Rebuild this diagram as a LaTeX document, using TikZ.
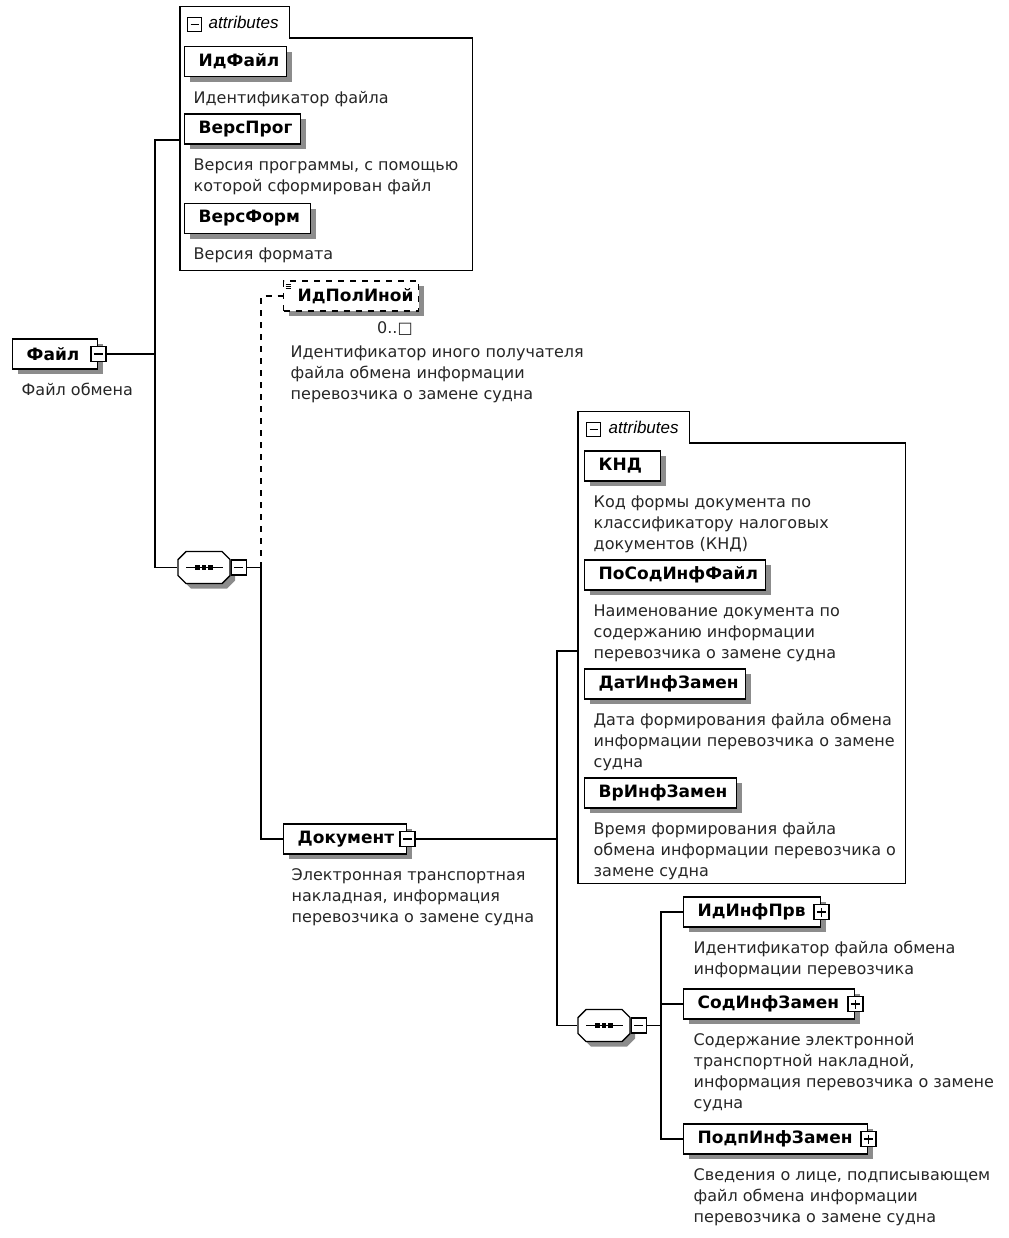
\documentclass[tikz,border=0pt]{standalone}
\usepackage{fontspec}
\setmainfont{DejaVu Sans}
\newfontfamily\tabfont{Liberation Sans}
\usepackage{tikz}
\usetikzlibrary{positioning,calc,shadows}

\hyphenpenalty=10000

\tikzset{
    gshadow/.style={drop shadow={shadow xshift=2.5pt,shadow yshift=-2.5pt,fill=black!45,opacity=1}},
    elem/.style={draw,fill=white,gshadow,anchor=west,minimum height=15pt,
        inner xsep=7pt,inner ysep=0pt,text width=#1,align=left,
        font=\fontsize{8.5}{10}\selectfont\bfseries},
    desc/.style={inner sep=0pt,align=left,text=black!85,font=\fontsize{8}{10.5}\selectfont},
    btn/.style={draw,fill=white,minimum size=7.5pt,inner sep=0pt},
    btnminus/.style={btn,path picture={
        \draw ([xshift=1.5pt]path picture bounding box.west) -- ([xshift=-1.5pt]path picture bounding box.east);}},
    btnplus/.style={btn,path picture={
        \draw ([xshift=1.5pt]path picture bounding box.west) -- ([xshift=-1.5pt]path picture bounding box.east);
        \draw ([yshift=1.5pt]path picture bounding box.south) -- ([yshift=-1.5pt]path picture bounding box.north);}},
    seqbox/.style={minimum width=26pt,minimum height=16pt,inner sep=0pt},
    attrbox/.style={anchor=north west,inner sep=0pt},
    attrtab/.style={anchor=south west,inner sep=0pt,minimum height=15pt,text width=#1,align=left,
        font=\tabfont\itshape\fontsize{8.5}{10}\selectfont},
}

% sequence compositor drawn over its (invisible) node
\newcommand\seqsym[1]{%
    \begin{scope}[shift={(#1.center)}]
        \fill[black!45,shift={(2.5pt,-2.5pt)}] (-13pt,-4pt) -- (-13pt,4pt) -- (-9pt,8pt) -- (9pt,8pt) -- (13pt,4pt) -- (13pt,-4pt) -- (9pt,-8pt) -- (-9pt,-8pt) -- cycle;
        \draw[fill=white] (-13pt,-4pt) -- (-13pt,4pt) -- (-9pt,8pt) -- (9pt,8pt) -- (13pt,4pt) -- (13pt,-4pt) -- (9pt,-8pt) -- (-9pt,-8pt) -- cycle;
        \draw (-9pt,0pt) -- (9.5pt,0pt);
        \foreach \dx in {-3.3pt,0pt,3.3pt} \fill (\dx,0pt) +(-1.2pt,-1.2pt) rectangle +(1.2pt,1.2pt);
    \end{scope}}

\begin{document}
\begin{tikzpicture}[x=0.5pt,y=-0.5pt,line width=0.7pt]
    \useasboundingbox (0,0) rectangle (1008,1238);

    % root element
    \node[elem=28.5pt] (fajl) at (12,354) {Файл};
    \node[btnminus] (fajlbtn) at (fajl.east) {};
    \node[desc,below right=6.5pt and 4.5pt of fajl.south west] (fajldesc) {Файл обмена};

    % attributes of the root
    \node[attrbox,minimum width=145.5pt,minimum height=115.5pt] (attr1) at (180,38) {};
    \node[attrtab=54pt] (attr1tab) at (attr1.north west) {\hspace*{14pt}attributes};
    \node[btnminus,minimum size=7pt] (attr1tabbtn) at ($(attr1tab.west)+(14.5,2)$) {};
    \draw (attr1.north west) |- (attr1tab.north east) |- (attr1.north east) |- (attr1.south west) -- cycle;

    \node[elem=37pt] (idfajl) at (184,61.5) {ИдФайл};
    \node[desc,below right=6.5pt and 4.5pt of idfajl.south west] (idfajldesc) {Идентификатор файла};
    \node[elem=44pt] (versprog) at (184,129) {ВерсПрог};
    \node[desc,below right=6.5pt and 4.5pt of versprog.south west] (versprogdesc) {Версия программы, с помощью\\которой сформирован файл};
    \node[elem=49pt] (versform) at (184,218.5) {ВерсФорм};
    \node[desc,below right=6.5pt and 4.5pt of versform.south west] (versformdesc) {Версия формата};

    % sequence 1
    \node[seqbox] (seq1) at (204,567.5) {};
    \seqsym{seq1}
    \node[btnminus,right=0pt of seq1] (seq1btn) {};

    % optional element
    \node[elem=53.5pt,dashed,path picture={
        \foreach \k in {1,2,3} \draw[solid,line width=0.4pt] ([xshift=1pt,yshift=-\k*1pt-0.5pt]path picture bounding box.north west) -- ++(2.5pt,0);}]
        (idpol) at (283,296) {ИдПолИной};
    \node[desc,below left=4.5pt and 3pt of idpol.south east] (idpolocc) {0..□};
    \node[desc,below right=16.5pt and 3.5pt of idpol.south west] (idpoldesc) {Идентификатор иного получателя\\файла обмена информации\\перевозчика о замене судна};

    % document
    \node[elem=47.5pt] (dok) at (283,839) {Документ};
    \node[btnminus] (dokbtn) at (dok.east) {};
    \node[desc,below right=6.5pt and 4pt of dok.south west] (dokdesc) {Электронная транспортная\\накладная, информация\\перевозчика о замене судна};

    % attributes of the document
    \node[attrbox,minimum width=163pt,minimum height=219.5pt] (attr2) at (578,443) {};
    \node[attrtab=55pt] (attr2tab) at (attr2.north west) {\hspace*{15pt}attributes};
    \node[btnminus,minimum size=7pt] (attr2tabbtn) at ($(attr2tab.west)+(15.5,2)$) {};
    \draw (attr2.north west) |- (attr2tab.north east) |- (attr2.north east) |- (attr2.south west) -- cycle;

    \node[elem=24pt] (knd) at (584,466) {КНД};
    \node[desc,below right=6.5pt and 4.5pt of knd.south west] (knddesc) {Код формы документа по\\классификатору налоговых\\документов (КНД)};
    \node[elem=76.5pt] (posod) at (584,575) {ПоСодИнфФайл};
    \node[desc,below right=6.5pt and 4.5pt of posod.south west] (posoddesc) {Наименование документа по\\содержанию информации\\перевозчика о замене судна};
    \node[elem=66.5pt] (dat) at (584,684) {ДатИнфЗамен};
    \node[desc,below right=6.5pt and 4.5pt of dat.south west] (datdesc) {Дата формирования файла обмена\\информации перевозчика о замене\\судна};
    \node[elem=62pt] (vr) at (584,793) {ВрИнфЗамен};
    \node[desc,below right=6.5pt and 4.5pt of vr.south west] (vrdesc) {Время формирования файла\\обмена информации перевозчика о\\замене судна};

    % sequence 2
    \node[seqbox] (seq2) at (604,1025.5) {};
    \seqsym{seq2}
    \node[btnminus,right=0pt of seq2] (seq2btn) {};

    \node[elem=54.5pt] (idinf) at (683,912) {ИдИнфПрв};
    \node[btnplus] (idinfbtn) at (idinf.east) {};
    \node[desc,below right=6.5pt and 5pt of idinf.south west] (idinfdesc) {Идентификатор файла обмена\\информации перевозчика};
    \node[elem=71.5pt] (sodinf) at (683,1004) {СодИнфЗамен};
    \node[btnplus] (sodinfbtn) at (sodinf.east) {};
    \node[desc,below right=6.5pt and 5pt of sodinf.south west] (sodinfdesc) {Содержание электронной\\транспортной накладной,\\информация перевозчика о замене\\судна};
    \node[elem=78pt] (podp) at (683,1139) {ПодпИнфЗамен};
    \node[btnplus] (podpbtn) at (podp.east) {};
    \node[desc,below right=6.5pt and 5pt of podp.south west] (podpdesc) {Сведения о лице, подписывающем\\файл обмена информации\\перевозчика о замене судна};

    % connectors
    \coordinate (bus1) at (155,354);
    \coordinate (attr1in) at (180,140);
    \draw (fajlbtn.east) -- (bus1);
    \draw (attr1in) -| (bus1) |- (seq1.west);

    \coordinate (bus2) at (261,567.5);
    \draw (seq1btn.east) -- (bus2) |- (dok.west);
    \draw[dashed] (bus2) |- (idpol.west);

    \coordinate (bus3) at (557,839);
    \coordinate (attr2in) at (578,651);
    \draw (dokbtn.east) -- (bus3);
    \draw (attr2in) -| (bus3) |- (seq2.west);

    \coordinate (bus4) at (661,1025.5);
    \draw (seq2btn.east) -- (bus4);
    \draw (idinf.west) -| (bus4) |- (podp.west);
    \draw (sodinf.west) -- (sodinf.west -| bus4);
\end{tikzpicture}
\end{document}
